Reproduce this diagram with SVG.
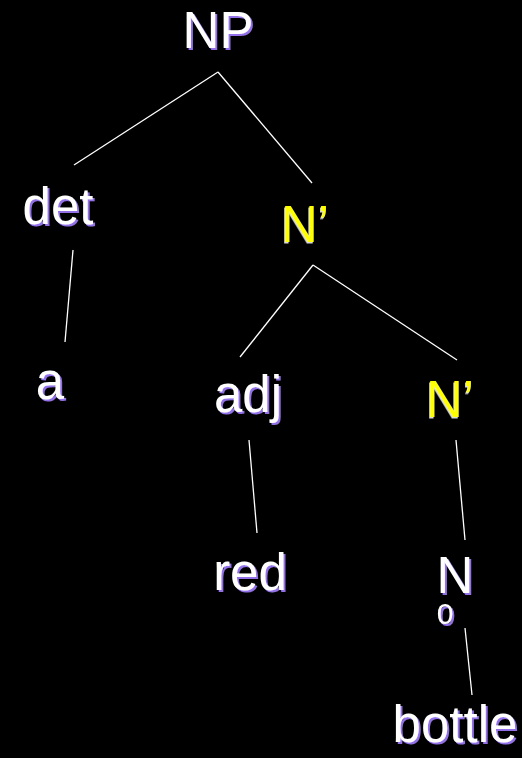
<svg xmlns="http://www.w3.org/2000/svg" width="522" height="758" viewBox="0 0 522 758">
  <defs>
    <!-- offset drop shadows behind the labels -->
    <filter id="shadowPurple" x="-10%" y="-10%" width="130%" height="130%">
      <feDropShadow dx="2" dy="2" stdDeviation="0" flood-color="#9370e8" flood-opacity="1"/>
    </filter>
    <filter id="shadowGrey" x="-10%" y="-10%" width="130%" height="130%">
      <feDropShadow dx="-1" dy="1.5" stdDeviation="0" flood-color="#d8d8d8" flood-opacity="1"/>
    </filter>
  </defs>
  <style>
    .lbl { font-family: "Liberation Sans", Arial, sans-serif; font-size: 51px; text-anchor: middle; }
    .sub { font-size: 30px; }
    .w { fill: #ffffff; filter: url(#shadowPurple); }
    .y { fill: #ffff00; filter: url(#shadowGrey); }
    .edge { stroke: #ffffff; stroke-width: 1.3; fill: none; }
  </style>
  <rect width="522" height="758" fill="#000000"/>

  <g id="connectors">
    <line class="edge" x1="218" y1="72" x2="74" y2="165"/>
    <line class="edge" x1="218" y1="72" x2="312" y2="183"/>
    <line class="edge" x1="73" y1="250" x2="65" y2="342"/>
    <line class="edge" x1="313" y1="265" x2="240" y2="357"/>
    <line class="edge" x1="313" y1="265" x2="457" y2="360"/>
    <line class="edge" x1="249" y1="440" x2="257" y2="533"/>
    <line class="edge" x1="456" y1="440" x2="465" y2="540"/>
    <line class="edge" x1="465" y1="628" x2="472" y2="695"/>
  </g>

  <g id="np">
    <text class="lbl w" x="218" y="48">NP</text>
  </g>
  <g id="det">
    <text class="lbl w" x="58" y="224">det</text>
  </g>
  <g id="nbar1">
    <text class="lbl y" x="305" y="242">N’</text>
  </g>
  <g id="a">
    <text class="lbl w" x="50" y="399">a</text>
  </g>
  <g id="adj">
    <text class="lbl w" x="248" y="412">adj</text>
  </g>
  <g id="nbar2">
    <text class="lbl y" x="450" y="417">N’</text>
  </g>
  <g id="red">
    <text class="lbl w" x="250" y="590">red</text>
  </g>
  <g id="n0">
    <!-- N with its subscript 0 set beneath -->
    <text class="lbl w" x="455" y="593">N<tspan class="sub" x="445" dy="31">0</tspan></text>
  </g>
  <g id="bottle">
    <text class="lbl w" x="455" y="742">bottle</text>
  </g>
</svg>
